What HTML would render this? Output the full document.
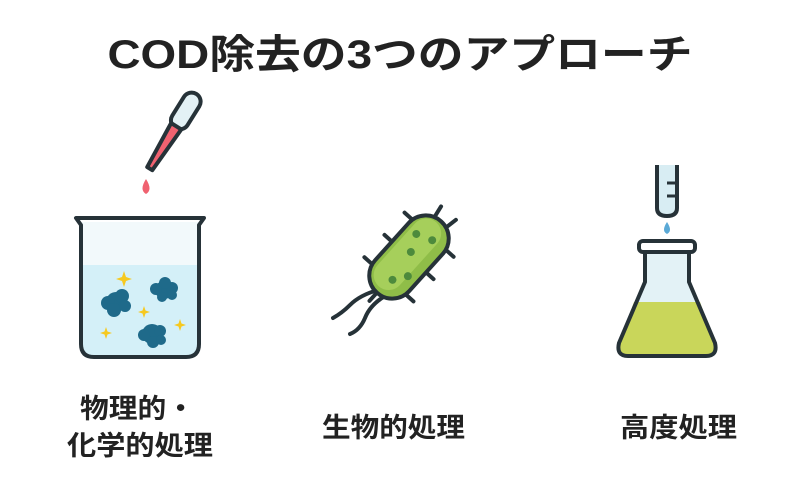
<!DOCTYPE html>
<html><head><meta charset="utf-8"><style>
html,body{margin:0;padding:0;background:#fff;width:800px;height:500px;overflow:hidden}
svg text{font-family:"Liberation Sans","Noto Sans CJK JP",sans-serif;font-weight:bold;fill:#222}
</style></head><body>
<svg width="800" height="500" viewBox="0 0 800 500" xmlns="http://www.w3.org/2000/svg">
<text x="400" y="68" font-size="40" text-anchor="middle" textLength="585" lengthAdjust="spacingAndGlyphs">COD除去の3つのアプローチ</text>

<!-- pipette -->
<g transform="translate(172,133) rotate(32)">
<rect x="-9" y="-46" width="18" height="40" rx="9" fill="#e3f1f5" stroke="#263238" stroke-width="4"/>
<path d="M-6,-8 L-3,42 L3,42 L6,-8 Z" fill="#f06270" stroke="#263238" stroke-width="4" stroke-linejoin="round"/>
</g>
<path d="M146,179 Q139,190 146,194 Q153,190 146,179 Z" fill="#f06270"/>

<!-- beaker -->
<path d="M82,265 L198,265 L198,345 Q198,356 187,356 L93,356 Q82,356 82,345 Z" fill="#d4f0f8"/>
<path d="M82,222 L198,222 L198,265 L82,265 Z" fill="#f2f9fb"/>
<path d="M76,218 L204,218 L199,225 L199,344 Q199,357 186,357 L94,357 Q81,357 81,344 L81,225 Z" fill="none" stroke="#263238" stroke-width="4" stroke-linejoin="round"/>
<g fill="#1f6a8a">
<circle cx="116" cy="302" r="10"/><circle cx="108" cy="303" r="7"/><circle cx="122" cy="296" r="7"/><circle cx="114" cy="310" r="7"/><circle cx="125" cy="306" r="6"/>
<circle cx="164" cy="290" r="9"/><circle cx="156" cy="289" r="6"/><circle cx="172" cy="288" r="6"/><circle cx="162" cy="297" r="5"/><circle cx="172" cy="295" r="5"/><circle cx="165" cy="283" r="6"/>
<circle cx="152" cy="334" r="10"/><circle cx="144" cy="335" r="6"/><circle cx="160" cy="331" r="6"/><circle cx="153" cy="342" r="6"/><circle cx="161" cy="340" r="5"/>
</g>
<g fill="#f6c920">
<path d="M124,271 l2,6 l6,2 l-6,2 l-2,6 l-2,-6 l-6,-2 l6,-2 z"/>
<path d="M144,306 l1.5,4.5 l4.5,1.5 l-4.5,1.5 l-1.5,4.5 l-1.5,-4.5 l-4.5,-1.5 l4.5,-1.5 z"/>
<path d="M180,319 l1.5,4.5 l4.5,1.5 l-4.5,1.5 l-1.5,4.5 l-1.5,-4.5 l-4.5,-1.5 l4.5,-1.5 z"/>
<path d="M106,327 l1.5,4.5 l4.5,1.5 l-4.5,1.5 l-1.5,4.5 l-1.5,-4.5 l-4.5,-1.5 l4.5,-1.5 z"/>
</g>

<!-- bacterium -->
<g stroke="#263238" stroke-width="4" stroke-linecap="round" fill="none">
<path d="M378,290 Q360,295 350,305 Q342,313 333,318"/>
<path d="M385,296 Q370,305 365,318 Q360,330 350,334"/>
</g>
<g transform="translate(409,257) rotate(-48)">
<g stroke="#263238" stroke-width="4" stroke-linecap="round">
<line x1="-30" y1="-22" x2="-30" y2="-33"/><line x1="0" y1="-22" x2="0" y2="-33"/><line x1="30" y1="-22" x2="30" y2="-33"/>
<line x1="-30" y1="22" x2="-30" y2="33"/><line x1="0" y1="22" x2="0" y2="33"/><line x1="30" y1="22" x2="30" y2="33"/>
<line x1="48" y1="-8" x2="59" y2="-10"/><line x1="48" y1="8" x2="59" y2="10"/><line x1="-48" y1="0" x2="-59" y2="0"/>
</g>
<rect x="-48" y="-23" width="96" height="46" rx="23" fill="#8fbd48" stroke="#263238" stroke-width="4"/>
<rect x="-42" y="-18" width="86" height="30" rx="15" fill="#a6cf5b"/>
<g fill="#4d8a3c"><circle cx="-28" cy="3" r="4"/><circle cx="-15" cy="12" r="4"/><circle cx="5" cy="-2" r="4"/><circle cx="22" cy="-10" r="4"/><circle cx="28" cy="6" r="4"/></g>
</g>

<!-- flask tube -->
<path d="M657,165 L657,208 Q657,216 667,216 Q677,216 677,208 L677,165" fill="#d8edf3" stroke="#263238" stroke-width="4"/>
<g stroke="#263238" stroke-width="3"><line x1="667" y1="183" x2="677" y2="183"/><line x1="667" y1="196" x2="677" y2="196"/></g>
<path d="M667,222 Q661,231 667,234 Q673,231 667,222 Z" fill="#5aa9d6"/>
<!-- flask -->
<path d="M645,252 L645,282 L619,343 Q616,356 628,356 L706,356 Q718,356 715,343 L689,282 L689,252 Z" fill="#e3f2f6"/>
<path d="M634,302 L700,302 L715,343 Q718,356 706,356 L628,356 Q616,356 619,343 Z" fill="#c9d65a"/>
<path d="M645,252 L645,282 L619,343 Q616,356 628,356 L706,356 Q718,356 715,343 L689,282 L689,252" fill="none" stroke="#263238" stroke-width="4" stroke-linejoin="round"/>
<rect x="639" y="241" width="56" height="11" rx="4" fill="#fff" stroke="#263238" stroke-width="4"/>

<text x="80" y="418" font-size="27" textLength="115" lengthAdjust="spacingAndGlyphs">物理的・</text>
<text x="67" y="455" font-size="27" textLength="146" lengthAdjust="spacingAndGlyphs">化学的処理</text>
<text x="322" y="437" font-size="27" textLength="143" lengthAdjust="spacingAndGlyphs">生物的処理</text>
<text x="620" y="437" font-size="27" textLength="117" lengthAdjust="spacingAndGlyphs">高度処理</text>
</svg>
</body></html>
